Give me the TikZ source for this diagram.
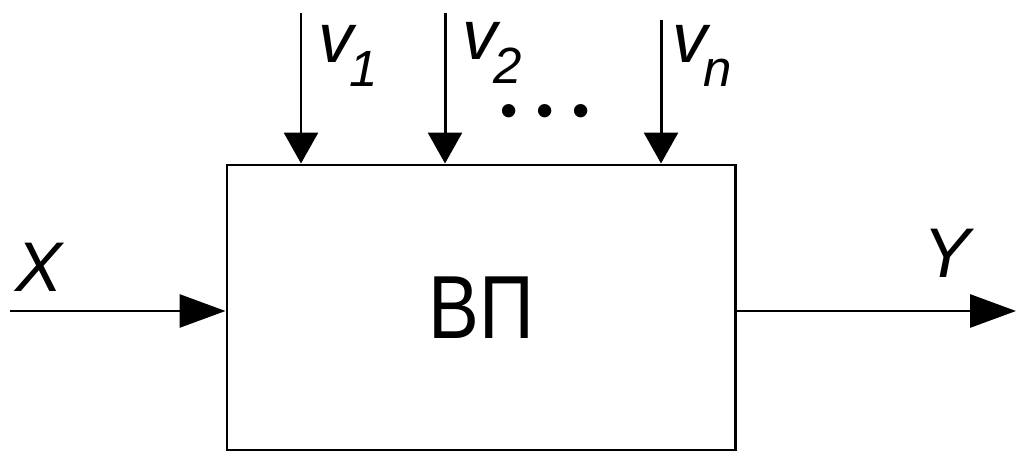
\documentclass[tikz,border=0pt]{standalone}
\usepackage{fontspec}
\setmainfont{Liberation Sans}
\usetikzlibrary{arrows.meta,positioning,calc}
\newcommand{\vsub}[1]{\kern-2pt\raisebox{-13.6pt}{\fontsize{29}{29}\selectfont #1}}

\begin{document}
\begin{tikzpicture}[
    block/.style={rectangle, draw=black, line width=1.7pt, minimum width=10.16cm, minimum height=5.70cm, inner sep=0pt, font=\fontsize{51}{51}\selectfont},
    arr/.style={-{Triangle[length=0.92cm,width=0.66cm]}, line width=1.7pt},
    varr/.style={-{Triangle[length=0.62cm,width=0.68cm]}, line width=1.7pt},
    lbl/.style={anchor=base, inner sep=0pt, font=\fontsize{40}{40}\selectfont\itshape},
    vlbl/.style={anchor=base west, inner sep=0pt, font=\fontsize{40}{40}\selectfont\itshape},
    dotlbl/.style={anchor=base, inner sep=0pt, font=\fontsize{28}{28}\selectfont}
]
\useasboundingbox (0,0) rectangle (20.36,9.04);

\node[block] (vp) at (9.62,2.89) {\scalebox{0.85}[1]{ВП}};

\coordinate (xin) at (0.2,2.82);
\coordinate (yout) at (20.32,2.82);
\coordinate (v1top) at (6.02,8.78);
\coordinate (v2top) at (8.90,8.78);
\coordinate (vntop) at (13.22,8.64);

\draw[arr] (xin) -- (xin -| vp.west);
\draw[arr] (yout -| vp.east) -- (yout);
\draw[varr] (v1top) -- (v1top |- vp.north);
\draw[varr] (v2top) -- (v2top |- vp.north);
\draw[varr] (vntop) -- (vntop |- vp.north);

\node[lbl] (xl) at (0.77,3.20) {X};
\node[lbl] (yl) at (18.94,3.48) {Y};
\node[vlbl] (v1l) at (6.36,7.78) {v\vsub{1}};
\node[vlbl] (v2l) at (9.24,7.84) {v\vsub{2}};
\node[vlbl] (vnl) at (13.44,7.78) {v\vsub{n}};
\node[dotlbl] (dots) at (10.90,6.49) {•\hspace{10.7pt}•\hspace{10.7pt}•};
\end{tikzpicture}
\end{document}
